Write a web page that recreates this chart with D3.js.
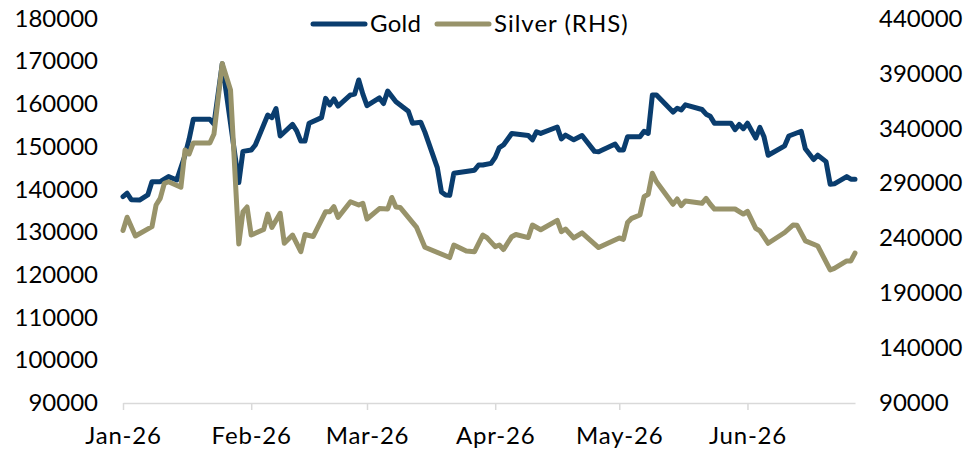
<!DOCTYPE html>
<html>
<head>
<meta charset="utf-8">
<script src="https://cdn.jsdelivr.net/npm/d3@7"></script>
<style>
    body { margin: 0; background: #fff; }
    text { font-family: Lato, "Noto Sans", sans-serif; fill: #000; }
</style>
</head>
<body>
<div id="chart"></div>
<script>
// gold, left axis
const goldDates = ["2026-01-01","2026-01-02","2026-01-03","2026-01-05","2026-01-07","2026-01-08","2026-01-10","2026-01-12","2026-01-14","2026-01-16","2026-01-17","2026-01-18","2026-01-22","2026-01-23","2026-01-25","2026-01-29","2026-01-30","2026-02-01","2026-02-02","2026-02-05","2026-02-06","2026-02-07","2026-02-08","2026-02-11","2026-02-12","2026-02-13","2026-02-14","2026-02-15","2026-02-18","2026-02-19","2026-02-20","2026-02-21","2026-02-22","2026-02-25","2026-02-26","2026-02-27","2026-02-28","2026-03-01","2026-03-04","2026-03-05","2026-03-06","2026-03-08","2026-03-11","2026-03-12","2026-03-14","2026-03-15","2026-03-18","2026-03-19","2026-03-20","2026-03-21","2026-03-22","2026-03-27","2026-03-28","2026-03-29","2026-03-31","2026-04-01","2026-04-02","2026-04-03","2026-04-05","2026-04-09","2026-04-10","2026-04-11","2026-04-12","2026-04-16","2026-04-17","2026-04-18","2026-04-20","2026-04-22","2026-04-25","2026-04-26","2026-04-30","2026-05-01","2026-05-02","2026-05-03","2026-05-06","2026-05-07","2026-05-08","2026-05-09","2026-05-10","2026-05-14","2026-05-15","2026-05-16","2026-05-17","2026-05-21","2026-05-22","2026-05-23","2026-05-24","2026-05-28","2026-05-29","2026-05-30","2026-05-31","2026-06-01","2026-06-03","2026-06-04","2026-06-05","2026-06-06","2026-06-10","2026-06-11","2026-06-14","2026-06-15","2026-06-17","2026-06-18","2026-06-20","2026-06-21","2026-06-22","2026-06-25","2026-06-26","2026-06-27"]
const goldValues = [138300,139100,137600,137500,138700,141800,141800,143000,142200,148000,151800,156400,156400,155300,169400,141600,148900,149200,150400,157400,156800,158900,152500,155200,153700,151300,151300,155500,156800,161300,159800,161200,159500,162100,162300,165600,162300,159600,161400,160100,163000,160500,158300,155500,155700,153400,145100,139400,138700,138600,143800,144500,145700,145700,146100,147500,149800,150400,153100,152600,151600,153500,153100,154600,151800,152700,151600,152600,148900,148800,150600,149200,149200,152300,152300,153600,153100,162100,162100,158100,159000,158600,159800,158700,157600,157100,155500,155500,154000,155200,154200,155500,152000,154500,152300,148000,150200,152500,153600,149500,147000,148000,146500,141200,141300,143000,142400,142400]

// silver, right axis
const silverDates = ["2026-01-01","2026-01-02","2026-01-04","2026-01-08","2026-01-09","2026-01-10","2026-01-11","2026-01-12","2026-01-15","2026-01-16","2026-01-17","2026-01-18","2026-01-22","2026-01-23","2026-01-25","2026-01-27","2026-01-29","2026-01-30","2026-01-31","2026-02-01","2026-02-04","2026-02-05","2026-02-06","2026-02-08","2026-02-09","2026-02-11","2026-02-13","2026-02-14","2026-02-16","2026-02-19","2026-02-20","2026-02-21","2026-02-22","2026-02-25","2026-02-27","2026-02-28","2026-03-01","2026-03-04","2026-03-06","2026-03-07","2026-03-08","2026-03-09","2026-03-13","2026-03-15","2026-03-21","2026-03-22","2026-03-25","2026-03-27","2026-03-29","2026-03-30","2026-04-01","2026-04-02","2026-04-03","2026-04-05","2026-04-06","2026-04-09","2026-04-10","2026-04-12","2026-04-16","2026-04-17","2026-04-18","2026-04-20","2026-04-22","2026-04-26","2026-05-01","2026-05-02","2026-05-03","2026-05-04","2026-05-06","2026-05-07","2026-05-08","2026-05-09","2026-05-10","2026-05-14","2026-05-15","2026-05-16","2026-05-17","2026-05-21","2026-05-22","2026-05-23","2026-05-24","2026-05-29","2026-05-31","2026-06-01","2026-06-03","2026-06-04","2026-06-06","2026-06-10","2026-06-12","2026-06-13","2026-06-15","2026-06-18","2026-06-21","2026-06-22","2026-06-25","2026-06-26","2026-06-27"]
const silverValues = [247000,259100,242000,250500,270200,276300,290000,291400,286400,320300,316700,326700,326700,334900,399000,374900,234700,263900,268400,242900,247900,262000,249800,262700,235400,242900,227700,243400,241600,264100,264100,268700,258900,273200,270200,271800,257500,267000,266600,277100,268400,268000,249800,231800,222400,233800,228400,227700,242900,240500,232300,233800,229700,241400,243400,240600,252000,247700,256300,245900,248400,240200,244900,231500,240200,239000,254300,258100,261100,277800,280000,299100,291400,270900,275700,269600,273900,271800,276300,270900,266600,266600,262000,264500,249000,246600,235400,245200,252000,251700,237600,232900,211100,212600,219300,219300,226500]

const leftTicks = [90000,100000,110000,120000,130000,140000,150000,160000,170000,180000]
const rightTicks = [90000,140000,190000,240000,290000,340000,390000,440000]
const monthTicks = ["2026-01-01","2026-02-01","2026-03-01","2026-04-01","2026-05-01","2026-06-01"]
const seriesNames = ["Gold", "Silver (RHS)"]
const seriesColors = ["#0A3D6E", "#98936A"]

const width = 966
const height = 450
const plot = { left: 123, right: 855, top: 18.5, bottom: 403 }
const parse = d3.timeParse("%Y-%m-%d")

const x = d3.scaleTime()
    .domain([parse("2026-01-01"), parse("2026-06-27")])
    .range([plot.left, plot.right])
const yLeft = d3.scaleLinear().domain([90000, 180000]).range([plot.bottom, plot.top])
const yRight = d3.scaleLinear().domain([90000, 440000]).range([plot.bottom, plot.top])

const svg = d3.select("#chart").append("svg")
    .attr("width", width)
    .attr("height", height)

// axes
const xAxis = svg.append("g")
    .attr("transform", `translate(0,${plot.bottom})`)
    .call(d3.axisBottom(x)
        .tickValues(monthTicks.map(parse))
        .tickFormat(d3.timeFormat("%b-%y"))
        .tickSizeInner(7)
        .tickSizeOuter(0)
        .tickPadding(17))
xAxis.select(".domain").attr("stroke", "#D9D9D9").attr("stroke-width", 1.5)
xAxis.selectAll(".tick line").attr("stroke", "#D9D9D9").attr("stroke-width", 1.5)
xAxis.selectAll("text").style("font-size", "24px").style("letter-spacing", "0.8px").attr("fill", "#000")

const leftAxis = svg.append("g")
    .attr("transform", `translate(${plot.left},0)`)
    .call(d3.axisLeft(yLeft).tickValues(leftTicks).tickFormat(d3.format("d")).tickSize(0).tickPadding(25))
leftAxis.select(".domain").remove()
leftAxis.selectAll("text").style("font-size", "24px").attr("fill", "#000")

const rightAxis = svg.append("g")
    .attr("transform", `translate(${plot.right},0)`)
    .call(d3.axisRight(yRight).tickValues(rightTicks).tickFormat(d3.format("d")).tickSize(0).tickPadding(24))
rightAxis.select(".domain").remove()
rightAxis.selectAll("text").style("font-size", "24px").attr("fill", "#000")

// lines
const goldData = goldDates.map((d, i) => ({ date: parse(d), value: goldValues[i] }))
const silverData = silverDates.map((d, i) => ({ date: parse(d), value: silverValues[i] }))

svg.append("path")
    .datum(goldData)
    .attr("fill", "none")
    .attr("stroke", seriesColors[0])
    .attr("stroke-width", 5)
    .attr("stroke-linejoin", "round")
    .attr("stroke-linecap", "round")
    .attr("d", d3.line().x(d => x(d.date)).y(d => yLeft(d.value)))

svg.append("path")
    .datum(silverData)
    .attr("fill", "none")
    .attr("stroke", seriesColors[1])
    .attr("stroke-width", 5)
    .attr("stroke-linejoin", "round")
    .attr("stroke-linecap", "round")
    .attr("d", d3.line().x(d => x(d.date)).y(d => yRight(d.value)))

// legend
const legendX = [313, 437]
const legend = svg.append("g").attr("transform", "translate(0,24)")
seriesNames.forEach((name, i) => {
    legend.append("line")
        .attr("x1", legendX[i]).attr("x2", legendX[i] + 52)
        .attr("y1", 0).attr("y2", 0)
        .attr("stroke", seriesColors[i])
        .attr("stroke-width", 5)
        .attr("stroke-linecap", "round")
    legend.append("text")
        .attr("x", legendX[i] + 57)
        .attr("y", 0)
        .attr("dy", "0.35em")
        .style("font-size", "24px")
        .style("letter-spacing", i === 1 ? "1px" : "0.3px")
        .text(name)
})
</script>
</body>
</html>
